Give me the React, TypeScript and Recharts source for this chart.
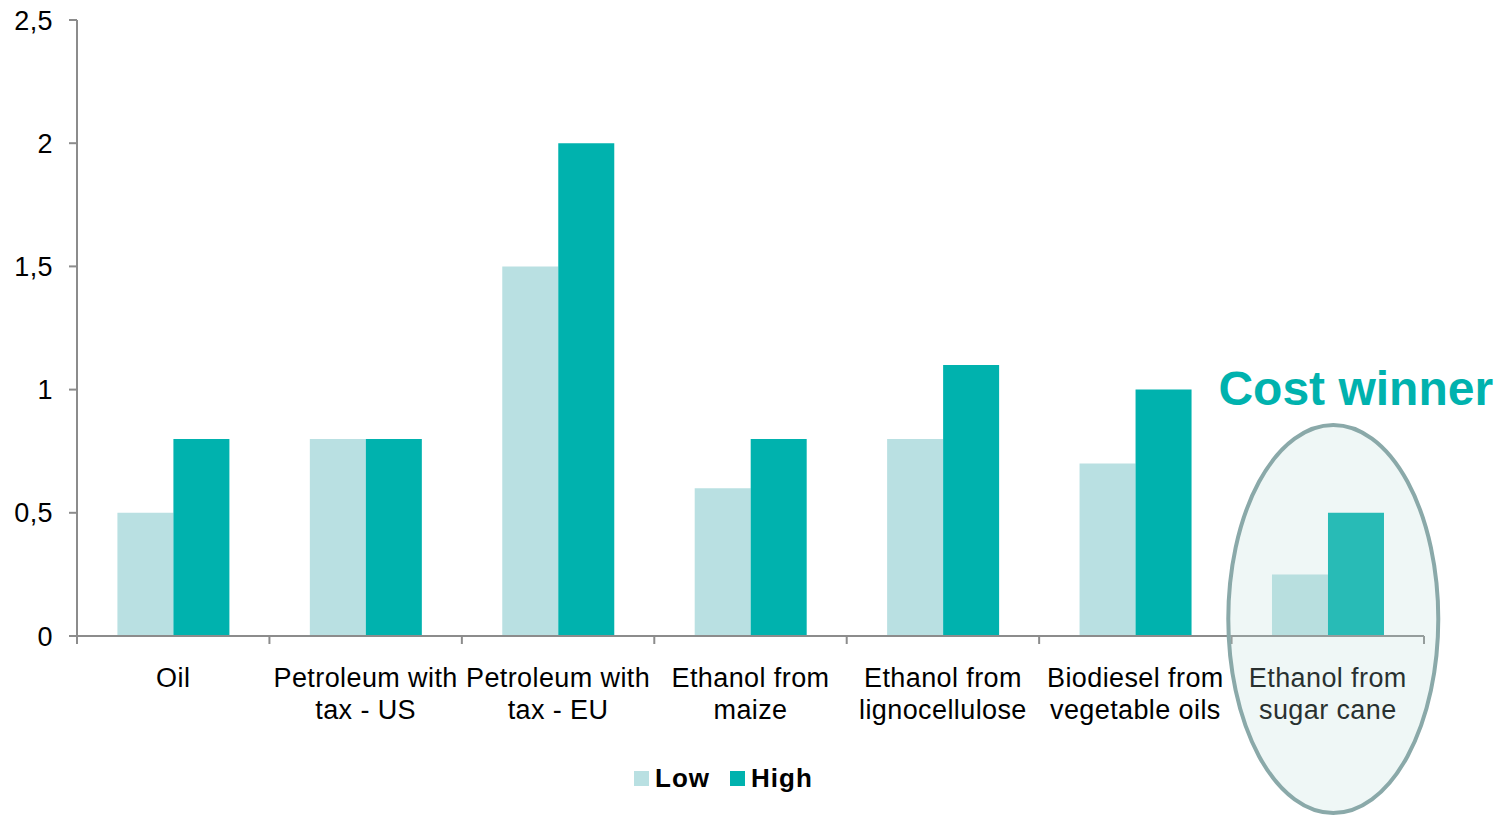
import React from "react";
import { BarChart, Bar, XAxis, YAxis } from "recharts";

const categories = [
  "Oil",
  "Petroleum with tax - US",
  "Petroleum with tax - EU",
  "Ethanol from maize",
  "Ethanol from lignocellulose",
  "Biodiesel from vegetable oils",
  "Ethanol from sugar cane",
];
const tickLines: string[][] = [
  ["Oil"],
  ["Petroleum with", "tax - US"],
  ["Petroleum with", "tax - EU"],
  ["Ethanol from", "maize"],
  ["Ethanol from", "lignocellulose"],
  ["Biodiesel from", "vegetable oils"],
  ["Ethanol from", "sugar cane"],
];
const lowValues = [0.5, 0.8, 1.5, 0.6, 0.8, 0.7, 0.25];
const highValues = [0.8, 0.8, 2.0, 0.8, 1.1, 1.0, 0.5];
const yTicks = [0, 0.5, 1, 1.5, 2, 2.5];
const seriesNames = ["Low", "High"];

const data = categories.map((c, i) => ({ name: c, low: lowValues[i], high: highValues[i] }));

const W = 1508;
const H = 815;
const M = { top: 20, right: 84, left: 0, bottom: 0 };
const Y_W = 77;
const X_H = 179;
const PLOT_L = M.left + Y_W;
const PLOT_R = W - M.right;
const PLOT_B = H - M.bottom - X_H;
const BAND = (PLOT_R - PLOT_L) / categories.length;

const LOW_C = "#B9E0E2";
const HIGH_C = "#00B2AE";
const AXIS_C = "#8C8C8C";
const FONT = "'Liberation Sans', Arial, sans-serif";

const XTick = (props: any) => {
  const { x, y, payload, index } = props;
  const off = payload && typeof payload.offset === "number" && payload.offset > 0 ? payload.offset : BAND / 2;
  const lines = tickLines[index] || [String(payload.value)];
  const last = index === categories.length - 1;
  return (
    <g>
      <line x1={x - off} x2={x - off} y1={y} y2={y + 8} stroke={AXIS_C} strokeWidth={2} />
      {last && <line x1={x + off} x2={x + off} y1={y} y2={y + 8} stroke={AXIS_C} strokeWidth={2} />}
      {lines.map((l, i) => (
        <text
          key={i}
          x={x}
          y={y + 51 + i * 32}
          textAnchor="middle"
          fill="#000"
          fontSize={27}
          letterSpacing={0.4}
          fontFamily={FONT}
        >
          {l}
        </text>
      ))}
    </g>
  );
};

export default function App() {
  const ellCx = PLOT_L + BAND * 6.5 + 5;
  return (
    <div style={{ position: "absolute", left: 0, top: 0, width: W, height: H, fontFamily: FONT }}>
      <BarChart width={W} height={H} data={data} margin={M} barCategoryGap="21%" barGap={0}>
        <YAxis
          width={Y_W}
          domain={[0, 2.5]}
          ticks={yTicks}
          interval={0}
          tickSize={8}
          tickMargin={16}
          axisLine={{ stroke: AXIS_C, strokeWidth: 2 }}
          tickLine={{ stroke: AXIS_C, strokeWidth: 2 }}
          tick={{ fill: "#000", fontSize: 27, fontFamily: FONT, letterSpacing: 0.4 }}
          tickFormatter={(v: number) => String(v).replace(".", ",")}
        />
        <XAxis
          dataKey="name"
          height={X_H}
          interval={0}
          tickSize={0}
          tickMargin={0}
          tickLine={false}
          axisLine={{ stroke: AXIS_C, strokeWidth: 2 }}
          tick={<XTick />}
        />
        <Bar dataKey="low" name={seriesNames[0]} fill={LOW_C} isAnimationActive={false} />
        <Bar dataKey="high" name={seriesNames[1]} fill={HIGH_C} isAnimationActive={false} />
      </BarChart>
      <svg
        width={W}
        height={H}
        style={{ position: "absolute", left: 0, top: 0, pointerEvents: "none" }}
      >
        <ellipse
          cx={ellCx + 0.5}
          cy={PLOT_B - 17}
          rx={105}
          ry={194}
          fill="rgb(182,218,214)"
          fillOpacity={0.22}
          stroke="#8AA9A9"
          strokeWidth={4}
        />
        <text
          x={ellCx + 23}
          y={405}
          textAnchor="middle"
          fill={HIGH_C}
          fontSize={48}
          fontWeight="bold"
          fontFamily={FONT}
        >
          Cost winner
        </text>
        <rect x={634} y={771} width={15} height={15} fill={LOW_C} />
        <text x={655} y={787} fontSize={26} fontWeight="bold" letterSpacing={1} fontFamily={FONT} fill="#000">
          {seriesNames[0]}
        </text>
        <rect x={730} y={771} width={15} height={15} fill={HIGH_C} />
        <text x={751} y={787} fontSize={26} fontWeight="bold" letterSpacing={1} fontFamily={FONT} fill="#000">
          {seriesNames[1]}
        </text>
      </svg>
    </div>
  );
}
